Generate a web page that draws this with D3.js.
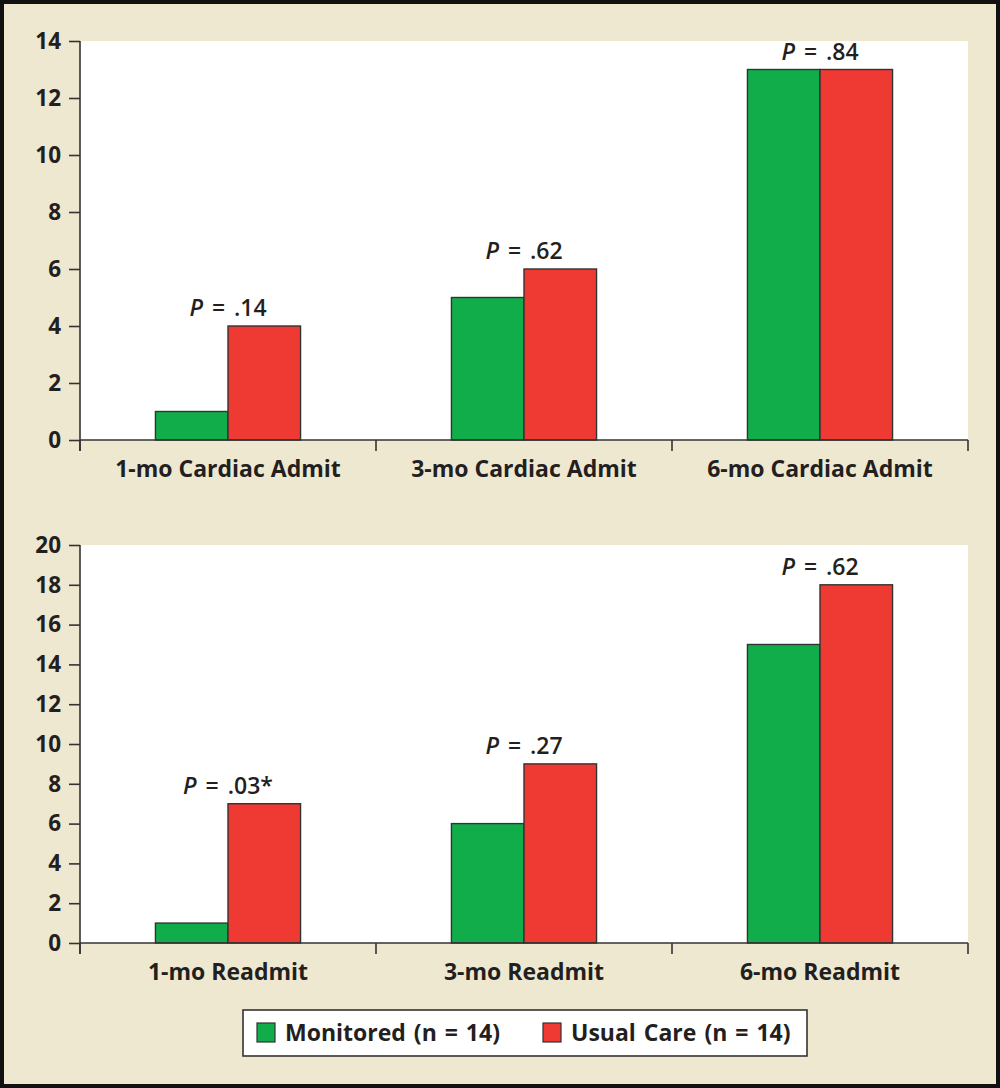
<!DOCTYPE html>
<html>
<head>
<meta charset="utf-8">
<title>Admissions and readmissions</title>
<script src="https://cdn.jsdelivr.net/npm/d3@7"></script>
<style>
body { margin: 0; background: #fff; }
text { font-family: "Open Sans", "Noto Sans", sans-serif; fill: #231f20; }
.tick text { font-size: 22.5px; font-weight: 700; }
.cat { font-size: 23px; font-weight: 700; }
.plab { font-size: 23px; font-weight: 600; word-spacing: 3px; }
.leg { font-size: 23px; font-weight: 700; word-spacing: 2px; }
</style>
</head>
<body>
<script>
// data
var seriesNames = ["Monitored (n = 14)", "Usual Care (n = 14)"];
var seriesColors = ["#12ad4b", "#ef3a33"];

var topCategories = ["1-mo Cardiac Admit", "3-mo Cardiac Admit", "6-mo Cardiac Admit"];
var topMonitored = [1, 5, 13];
var topUsual = [4, 6, 13];
var topP = [".14", ".62", ".84"];
var topTicks = [0, 2, 4, 6, 8, 10, 12, 14];

var botCategories = ["1-mo Readmit", "3-mo Readmit", "6-mo Readmit"];
var botMonitored = [1, 6, 15];
var botUsual = [7, 9, 18];
var botP = [".03*", ".27", ".62"];
var botTicks = [0, 2, 4, 6, 8, 10, 12, 14, 16, 18, 20];

var W = 1000, H = 1088;
var svg = d3.select("body").append("svg")
    .attr("width", W)
    .attr("height", H);

// beige frame with black border
svg.append("rect")
    .attr("x", 2).attr("y", 2)
    .attr("width", W - 4).attr("height", H - 4)
    .attr("fill", "#efe8d1")
    .attr("stroke", "#111")
    .attr("stroke-width", 4);

function panel(cats, mon, usual, pvals, ticks, y0, y1) {
    var left = 80, right = 968;
    var x0 = d3.scaleBand().domain(cats).range([left, right]);
    var x1 = d3.scaleBand().domain(seriesNames).range([0, x0.bandwidth()]).paddingOuter(1.04);
    var y = d3.scaleLinear().domain([0, d3.max(ticks)]).range([y1, y0]);

    var g = svg.append("g");

    // white plot area
    g.append("rect")
        .attr("x", left).attr("y", y0)
        .attr("width", right - left).attr("height", y1 - y0)
        .attr("fill", "#fff");

    var rows = cats.map(function(c, i) {
        return { cat: c, vals: [mon[i], usual[i]], p: pvals[i] };
    });

    var grp = g.selectAll(".grp")
        .data(rows)
      .enter().append("g")
        .attr("class", "grp")
        .attr("transform", function(d) { return "translate(" + x0(d.cat) + ",0)"; });

    grp.selectAll("rect")
        .data(function(d) { return d.vals.map(function(v, j) { return { s: seriesNames[j], v: v, j: j }; }); })
      .enter().append("rect")
        .attr("x", function(d) { return x1(d.s); })
        .attr("width", x1.bandwidth())
        .attr("y", function(d) { return y(d.v); })
        .attr("height", function(d) { return y(0) - y(d.v); })
        .attr("fill", function(d) { return seriesColors[d.j]; })
        .attr("stroke", "#333")
        .attr("stroke-width", 1.4);

    // P value labels
    var pl = grp.append("text")
        .attr("class", "plab")
        .attr("x", x0.bandwidth() / 2)
        .attr("y", function(d) { return y(d3.max(d.vals)) - 10; })
        .attr("text-anchor", "middle");
    pl.append("tspan").attr("font-style", "italic").text("P");
    pl.append("tspan").text(function(d) { return " = " + d.p; });

    // y axis
    var ya = g.append("g")
        .attr("transform", "translate(" + left + ",0)")
        .call(d3.axisLeft(y).tickValues(ticks).tickSize(11).tickPadding(8));
    ya.select(".domain").remove();
    ya.selectAll("line").attr("stroke", "#333").attr("stroke-width", 1.6);
    g.append("line")
        .attr("x1", left).attr("x2", left)
        .attr("y1", y0).attr("y2", y1 + 11)
        .attr("stroke", "#333").attr("stroke-width", 1.6);

    // x axis
    g.append("line")
        .attr("x1", left).attr("x2", right)
        .attr("y1", y1).attr("y2", y1)
        .attr("stroke", "#333").attr("stroke-width", 1.6);
    var edges = cats.map(function(c) { return x0(c); }).concat([right]);
    g.selectAll(".ctick")
        .data(edges)
      .enter().append("line")
        .attr("x1", function(d) { return d; }).attr("x2", function(d) { return d; })
        .attr("y1", y1).attr("y2", y1 + 11)
        .attr("stroke", "#333").attr("stroke-width", 1.6);

    g.selectAll(".cat")
        .data(cats)
      .enter().append("text")
        .attr("class", "cat")
        .attr("x", function(d) { return x0(d) + x0.bandwidth() / 2; })
        .attr("y", y1 + 37)
        .attr("text-anchor", "middle")
        .text(function(d) { return d; });
}

panel(topCategories, topMonitored, topUsual, topP, topTicks, 41, 440);
panel(botCategories, botMonitored, botUsual, botP, botTicks, 545, 943);

// legend
var leg = svg.append("g");
leg.append("rect")
    .attr("x", 243).attr("y", 1010)
    .attr("width", 564).attr("height", 46)
    .attr("fill", "#fff")
    .attr("stroke", "#333")
    .attr("stroke-width", 1.6);
var legX = [257, 543];
var li = leg.selectAll(".li")
    .data(seriesNames)
  .enter().append("g")
    .attr("transform", function(d, i) { return "translate(" + legX[i] + ",0)"; });
li.append("rect")
    .attr("x", 0).attr("y", 1023)
    .attr("width", 18).attr("height", 19)
    .attr("fill", function(d, i) { return seriesColors[i]; })
    .attr("stroke", "#333")
    .attr("stroke-width", 1.2);
li.append("text")
    .attr("class", "leg")
    .attr("x", 28).attr("y", 1041)
    .text(function(d) { return d; });
</script>
</body>
</html>
